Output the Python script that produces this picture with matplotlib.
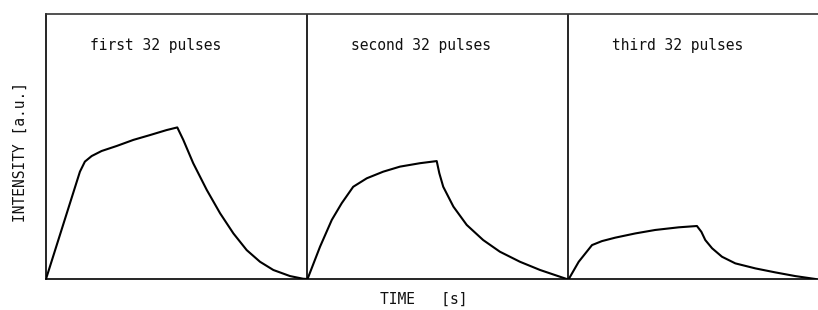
import matplotlib
matplotlib.use("Agg")
import matplotlib.pyplot as plt
import numpy as np

# Data (normalized time within each 32-pulse block, intensity in a.u.)
panel_labels = ["first 32 pulses", "second 32 pulses", "third 32 pulses"]

t1 = [0.0, 0.130, 0.149, 0.175, 0.213, 0.271, 0.335, 0.398, 0.462, 0.503,
      0.526, 0.564, 0.616, 0.667, 0.718, 0.769, 0.820, 0.871, 0.935, 0.985, 1.0]
y1 = [0.0, 40.5, 44.3, 46.4, 48.3, 50.2, 52.5, 54.3, 56.2, 57.2,
      52.5, 43.7, 33.6, 24.8, 17.2, 10.9, 6.5, 3.4, 1.1, 0.1, 0.0]

t2 = [0.002, 0.050, 0.095, 0.133, 0.177, 0.229, 0.292, 0.356, 0.433, 0.497,
      0.507, 0.522, 0.561, 0.612, 0.675, 0.739, 0.816, 0.893, 0.995]
y2 = [0.0, 12.2, 22.3, 28.6, 34.8, 38.0, 40.5, 42.4, 43.7, 44.5,
      39.9, 34.8, 27.3, 20.4, 14.7, 10.3, 6.5, 3.4, 0.0]

t3 = [0.003, 0.041, 0.092, 0.130, 0.181, 0.258, 0.334, 0.424, 0.494,
      0.511, 0.526, 0.552, 0.590, 0.641, 0.718, 0.794, 0.871, 0.948]
y3 = [0.0, 6.5, 12.8, 14.3, 15.6, 17.2, 18.5, 19.5, 20.0,
      17.8, 14.7, 11.6, 8.4, 5.9, 4.0, 2.5, 1.1, 0.0]

series = [(t1, y1), (t2, y2), (t3, y3)]

W, H = 818, 310
fig = plt.figure(figsize=(W / 100, H / 100), dpi=100)
panel_w = 261
left, right = 46, 46 + 3 * panel_w
bottom, top = 279, 14
ax = fig.add_axes([left / W, (H - bottom) / H, (right - left) / W, (bottom - top) / H])

for i, (t, y) in enumerate(series):
    ax.plot(np.array(t) + i, y, color="black", lw=1.5, solid_joinstyle="round")
    ax.text(i + 0.17, 88, panel_labels[i], family="DejaVu Sans Mono",
            fontsize=10.5, color="#111111", va="center", ha="left")

for xv in (1, 2):
    ax.axvline(xv, color="black", lw=1.2)

ax.set_xlim(0, 3)
ax.set_ylim(0, 100)
ax.set_xticks([])
ax.set_yticks([])
for s in ("left", "bottom"):
    ax.spines[s].set_linewidth(1.2)
    ax.spines[s].set_color("black")
ax.spines["top"].set_linewidth(1.2)
ax.spines["top"].set_color("#333333")
ax.spines["right"].set_visible(False)

fig.text(20 / W, 1 - 152 / H, "INTENSITY [a.u.]", family="DejaVu Sans Mono",
         fontsize=10.5, rotation=90, ha="center", va="center", color="#111111")
fig.text(424 / W, 1 - 299 / H, "TIME   [s]", family="DejaVu Sans Mono",
         fontsize=10.5, ha="center", va="center", color="#111111")

fig.savefig("out.png", dpi=100)
